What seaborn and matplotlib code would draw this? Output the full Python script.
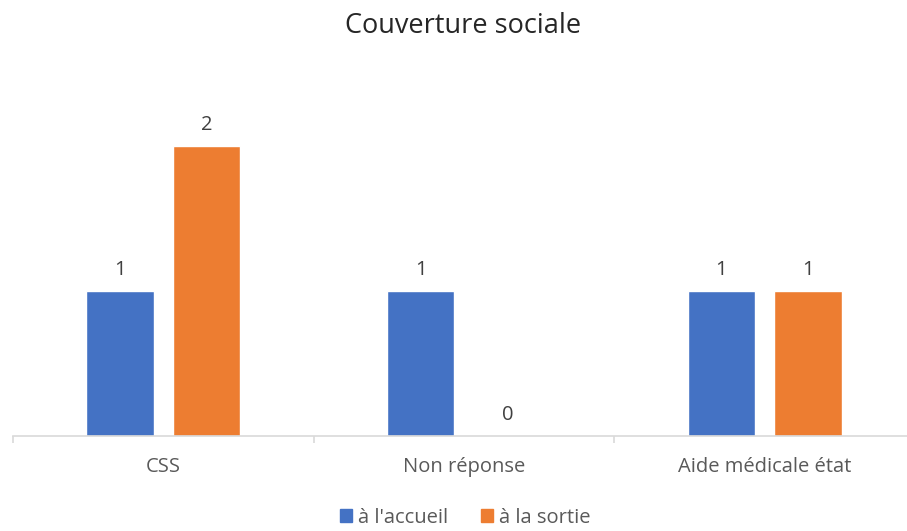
import pandas as pd
import matplotlib.pyplot as plt
import seaborn as sns

# Data
categories = ['CSS', 'Non réponse', 'Aide médicale état']
accueil = [1, 1, 1]
sortie = [2, 0, 1]
series_names = ["à l'accueil", 'à la sortie']
colors = ['#4472C4', '#ED7D31']

df = pd.DataFrame({
    'Catégorie': categories * 2,
    'Valeur': accueil + sortie,
    'Série': [series_names[0]] * 3 + [series_names[1]] * 3,
})

sns.set_style('white')
plt.rcParams['font.family'] = ['Open Sans', 'DejaVu Sans']

fig = plt.figure(figsize=(9.07, 5.31), dpi=100)
ax = fig.add_axes([13 / 907, 95 / 531, 902 / 907, 360 / 531])

sns.barplot(data=df, x='Catégorie', y='Valeur', hue='Série',
            palette=colors, width=0.576, gap=0.225, ax=ax, saturation=1)

# Value labels
for container in ax.containers:
    ax.bar_label(container, fmt='%d', padding=8, fontsize=14.5, color='#404040')

ax.set_xlim(-0.5, 2.5)
ax.set_ylim(0, 2.48)
ax.set_xlabel('')
ax.set_ylabel('')
ax.set_yticks([])
for side in ['top', 'right', 'left']:
    ax.spines[side].set_visible(False)
ax.spines['bottom'].set_color('#D9D9D9')
ax.spines['bottom'].set_linewidth(1.2)

ax.set_xticks([-0.5, 0.5, 1.5, 2.5], minor=True)
ax.tick_params(axis='x', which='minor', bottom=True, length=5, color='#D9D9D9', width=1.2)
ax.tick_params(axis='x', which='major', length=0, pad=15, labelsize=14.5, labelcolor='#595959')

ax.legend_.remove()
handles = [plt.Rectangle((0, 0), 1, 1, color=c) for c in colors]
fig.legend(handles, series_names, loc='center', bbox_to_anchor=(0.513, 0.025),
           ncol=2, frameon=False, fontsize=14.5, handlelength=0.6, handleheight=0.6,
           handletextpad=0.3, columnspacing=1.6, labelcolor='#595959')

fig.suptitle('Couverture sociale', x=0.511, y=0.978, fontsize=19.5, color='#262626')

fig.savefig('out.png', dpi=100)
